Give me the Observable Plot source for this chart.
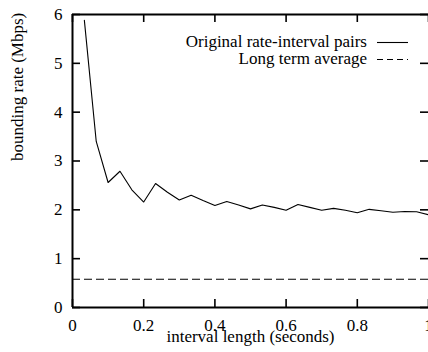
<!DOCTYPE html>
<html>
<head>
<meta charset="utf-8">
<script src="https://cdn.jsdelivr.net/npm/d3@7"></script>
<script src="https://cdn.jsdelivr.net/npm/@observablehq/plot@0.6"></script>
<style>
  html, body { margin: 0; padding: 0; background: white; }
  #chart svg { display: block; }
</style>
</head>
<body>
<div id="chart"></div>
<script>
// Bounding rate measured for each interval length (1/30 s steps)
const intervalSteps = [1, 2, 3, 4, 5, 6, 7, 8, 9, 10, 11, 12, 13, 14, 15,
                       16, 17, 18, 19, 20, 21, 22, 23, 24, 25, 26, 27, 28, 29, 30];
const boundingRate = [5.88, 3.40, 2.56, 2.79, 2.41, 2.16, 2.54, 2.36, 2.20, 2.30,
                      2.19, 2.09, 2.17, 2.10, 2.02, 2.10, 2.05, 1.99, 2.11, 2.05,
                      1.99, 2.03, 1.99, 1.94, 2.01, 1.98, 1.95, 1.965, 1.96, 1.90];
const longTermAverage = [0.58];

const xTicks = [0, 0.2, 0.4, 0.6, 0.8, 1];
const yTicks = [0, 1, 2, 3, 4, 5, 6];
const legendLabels = ["Original rate-interval pairs", "Long term average"];
const xLabel = "interval length (seconds)";
const yLabel = "bounding rate (Mbps)";

const pairs = intervalSteps.map((s, i) => ({interval: s / 30, rate: boundingRate[i]}));

const W = 428, H = 352;
const mL = 72, mR = 0, mT = 14, mB = 45;
const innerW = W - mL - mR, innerH = H - mT - mB;
const tickLen = 8;
const font = "'Liberation Serif', 'Times New Roman', serif";

const chart = Plot.plot({
  width: W,
  height: H,
  marginLeft: mL,
  marginRight: mR,
  marginTop: mT,
  marginBottom: mB,
  style: {fontFamily: font, fontSize: "17px", background: "white", color: "black"},
  x: {domain: [0, 1]},
  y: {domain: [0, 6]},
  marks: [
    // tick labels
    Plot.axisX(xTicks, {tickSize: 0, tickPadding: 11, tickFormat: d => String(d), label: null}),
    Plot.axisY(yTicks, {tickSize: 0, tickPadding: 10, tickFormat: d => String(d), label: null}),
    // inward tick marks on all four sides
    Plot.tickX(xTicks, {x: d => d, insetTop: innerH - tickLen, stroke: "black", strokeWidth: 1.6}),
    Plot.tickX(xTicks, {x: d => d, insetBottom: innerH - tickLen, stroke: "black", strokeWidth: 1.6}),
    Plot.tickY(yTicks, {y: d => d, insetRight: innerW - tickLen, stroke: "black", strokeWidth: 1.6}),
    Plot.tickY(yTicks, {y: d => d, insetLeft: innerW - tickLen, stroke: "black", strokeWidth: 1.6}),
    // long-term average
    Plot.ruleY(longTermAverage, {stroke: "black", strokeWidth: 1.1, strokeDasharray: "8,4"}),
    // rate-interval pairs
    Plot.line(pairs, {x: "interval", y: "rate", stroke: "black", strokeWidth: 1.1}),
    // frame: left, bottom, top
    Plot.ruleX([0], {stroke: "black", strokeWidth: 2}),
    Plot.ruleY([0, 6], {stroke: "black", strokeWidth: 2}),
    // axis titles
    Plot.text([xLabel], {frameAnchor: "bottom", dy: 34, fontSize: 17, fill: "black"}),
    Plot.text([yLabel], {frameAnchor: "left", dx: -55, rotate: -90, fontSize: 17, fill: "black"})
  ]
});

// legend in the upper right corner of the plot area
const svg = d3.select(chart);
const legend = svg.append("g")
  .attr("font-family", font)
  .attr("font-size", 17)
  .attr("fill", "black");
const legendStyles = [null, "6,4"];
legendLabels.forEach((label, i) => {
  const y = 42 + i * 17;
  legend.append("text")
    .attr("x", 367)
    .attr("y", y)
    .attr("dy", "0.32em")
    .attr("text-anchor", "end")
    .text(label);
  legend.append("line")
    .attr("x1", 377).attr("x2", 408)
    .attr("y1", y + 0.5).attr("y2", y + 0.5)
    .attr("stroke", "black")
    .attr("stroke-width", 1.1)
    .attr("stroke-dasharray", legendStyles[i]);
});

document.getElementById("chart").append(chart);
</script>
</body>
</html>
